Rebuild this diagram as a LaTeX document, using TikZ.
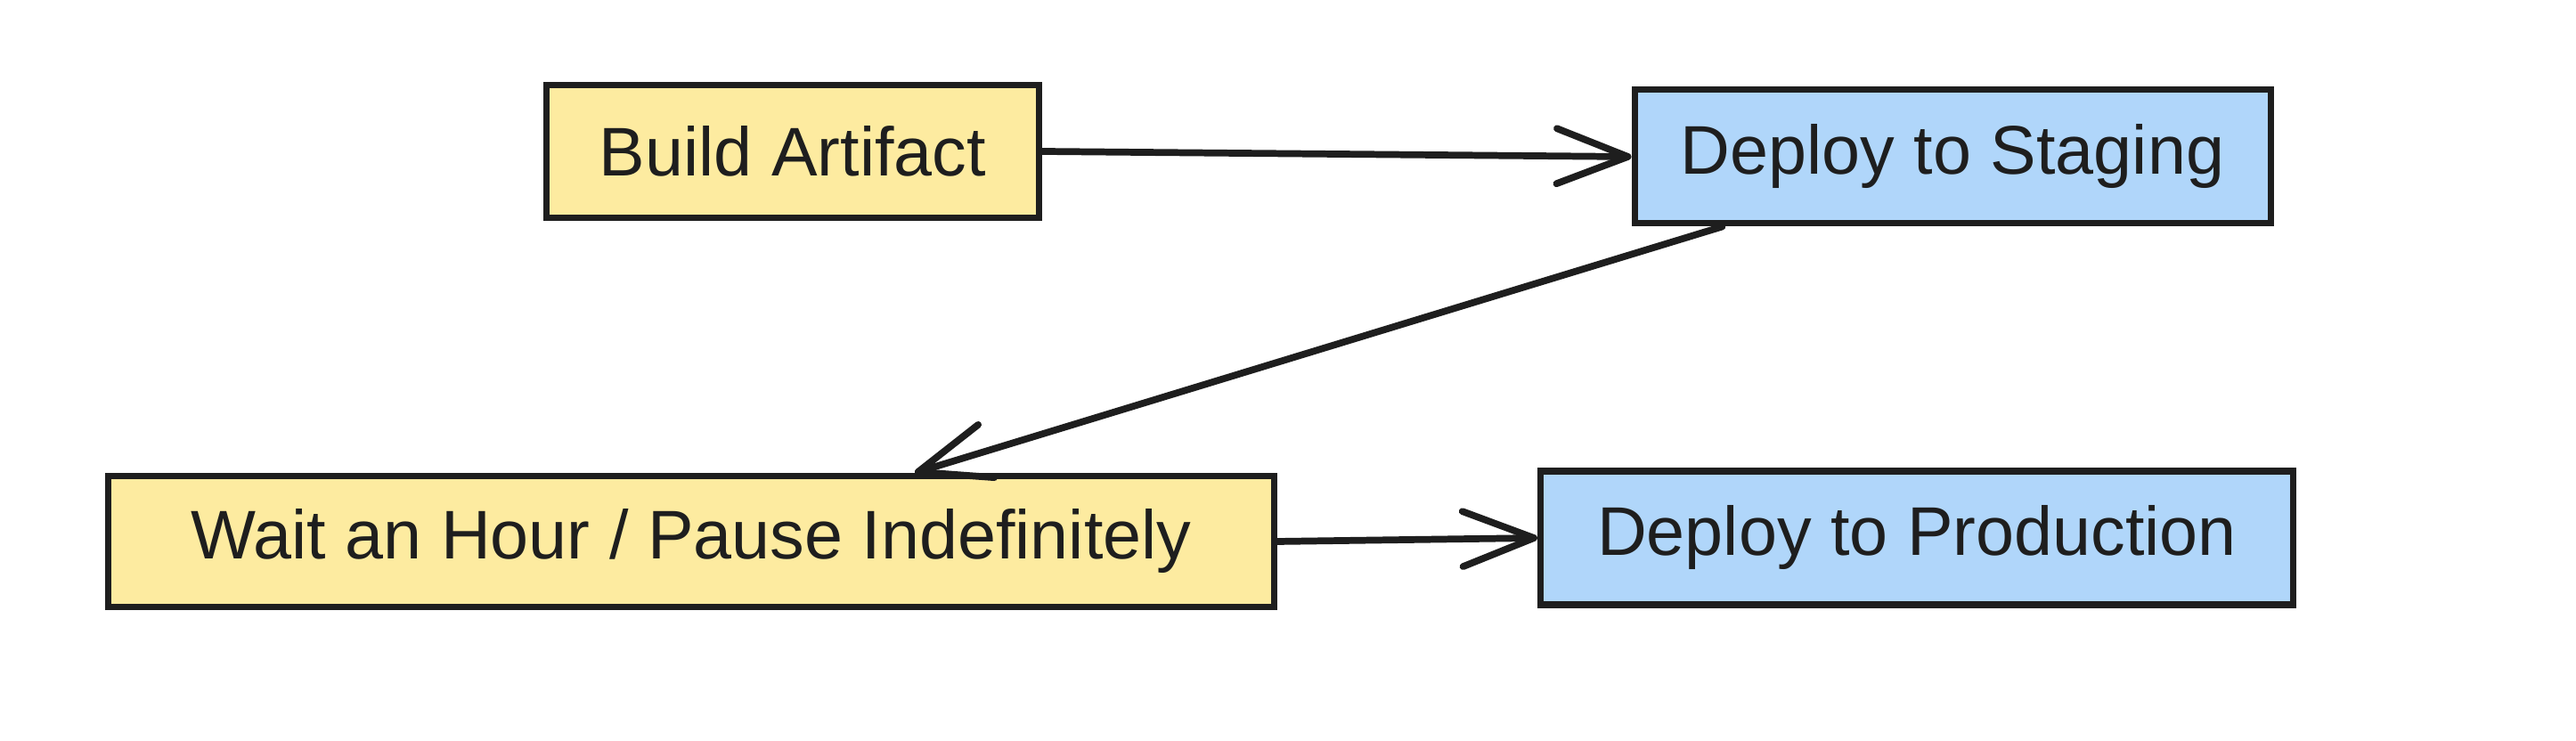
\documentclass[tikz,border=0pt]{standalone}
\usepackage{fontspec}
\setmainfont{Liberation Sans}
\usetikzlibrary{arrows.meta}
\definecolor{buildyellow}{HTML}{FDEBA0}
\definecolor{deployblue}{HTML}{B0D6FA}
\definecolor{inkgray}{HTML}{1E1E1E}

\begin{document}
\begin{tikzpicture}[line width=2pt,draw=inkgray,line cap=round,
  >={Straight Barb[length=0.8cm,width=0.62cm,line width=2.2pt,round]},
  stepbox/.style={draw=inkgray,rectangle,inner sep=0pt,text=inkgray,
    font=\fontsize{22}{26}\selectfont},
  waitbox/.style={stepbox,fill=buildyellow},
  deploybox/.style={stepbox,fill=deployblue}]
\useasboundingbox (0,0) rectangle (28.92,8.32);
% ---------- 上排 ----------
\node[waitbox,minimum width=5.53cm,minimum height=1.49cm] (build) at (8.90,6.62) {Build Artifact};
\node[deploybox,minimum width=7.14cm,minimum height=1.50cm] (staging) at (21.92,6.56) {Deploy to Staging};
% ---------- 下排 ----------
\node[waitbox,minimum width=13.09cm,minimum height=1.47cm] (wait) at (7.76,2.24) {Wait an Hour / Pause Indefinitely};
\node[deploybox,minimum width=8.45cm,minimum height=1.50cm] (prod) at (21.52,2.28) {Deploy to Production};
% 箭头
\draw[->,inkgray,line width=2.2pt] (build.east) -- (staging.west);
\coordinate (stagingout) at ([xshift=1.02cm]staging.south west);
\coordinate (waitin) at ([xshift=2.51cm]wait.north);
\draw[->,inkgray,line width=2.2pt] (stagingout) -- (waitin);
\draw[->,inkgray,line width=2.2pt] (wait.east) -- (prod.west);
\end{tikzpicture}
\end{document}
